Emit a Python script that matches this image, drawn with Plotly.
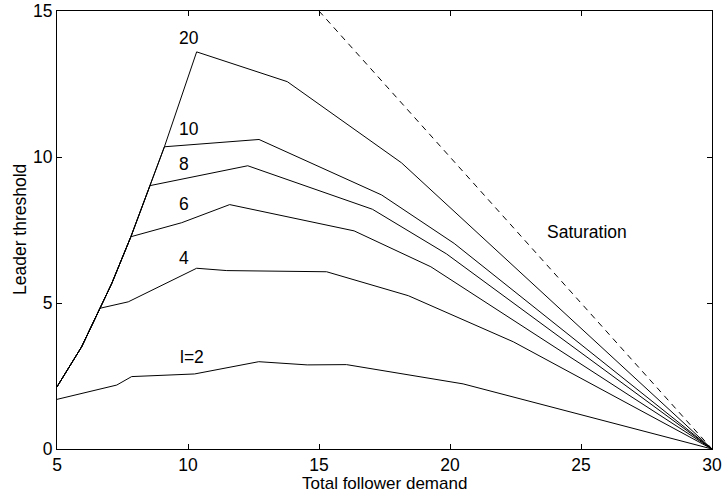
import plotly.graph_objects as go

# Shared rising envelope (feasibility boundary)
env_x = [5.0, 5.94, 6.64, 7.09, 7.82, 8.55, 9.10, 10.33]
env_y = [2.13, 3.50, 4.82, 5.67, 7.27, 9.02, 10.35, 13.60]

# l = 2 (does not follow the envelope)
l2_x = [5.0, 7.28, 7.85, 10.25, 12.70, 14.55, 16.05, 20.50, 30.0]
l2_y = [1.70, 2.19, 2.48, 2.57, 2.99, 2.88, 2.89, 2.23, 0.0]

# Branches leaving the envelope: (index of branch point on envelope, tail x, tail y)
l4_branch = 2
l4_x = [7.72, 10.33, 11.48, 15.29, 18.41, 22.42, 30.0]
l4_y = [5.04, 6.19, 6.11, 6.07, 5.25, 3.67, 0.0]

l6_branch = 4
l6_x = [9.76, 11.59, 16.34, 19.27, 30.0]
l6_y = [7.75, 8.37, 7.47, 6.24, 0.0]

l8_branch = 5
l8_x = [12.28, 17.04, 19.87, 30.0]
l8_y = [9.70, 8.21, 6.68, 0.0]

l10_branch = 6
l10_x = [12.71, 17.39, 20.16, 30.0]
l10_y = [10.60, 8.70, 7.04, 0.0]

l20_branch = 7
l20_x = [13.79, 18.15, 30.0]
l20_y = [12.58, 9.80, 0.0]

sat_x = [15.0, 30.0]
sat_y = [15.0, 0.0]

labels = ["l=2", "4", "6", "8", "10", "20", "Saturation"]
label_x = [10.14, 9.85, 9.86, 9.86, 10.05, 10.05, 25.22]
label_y = [3.16, 6.53, 8.38, 9.75, 10.95, 14.07, 7.44]

x_ticks = [5, 10, 15, 20, 25, 30]
y_ticks = [0, 5, 10, 15]
x_title = "Total follower demand"
y_title = "Leader threshold"

FONT = "Liberation Sans, Arial, Helvetica, sans-serif"
FS = 17.5

fig = go.Figure()

line = dict(color="black", width=1)

fig.add_trace(go.Scatter(x=l2_x, y=l2_y, mode="lines", line=line, showlegend=False))
for b, tx, ty in [(l4_branch, l4_x, l4_y), (l6_branch, l6_x, l6_y),
                  (l8_branch, l8_x, l8_y), (l10_branch, l10_x, l10_y),
                  (l20_branch, l20_x, l20_y)]:
    xs = env_x[:b + 1] + tx
    ys = env_y[:b + 1] + ty
    fig.add_trace(go.Scatter(x=xs, y=ys, mode="lines", line=line, showlegend=False))

fig.add_trace(go.Scatter(x=sat_x, y=sat_y, mode="lines", showlegend=False,
                         line=dict(color="black", width=1, dash="6px,5px")))

for t, x, y in zip(labels, label_x, label_y):
    fig.add_annotation(x=x, y=y, xref="x", yref="y", text=t, showarrow=False,
                       font=dict(family=FONT, size=FS, color="black"))

# Axis titles as annotations for precise placement
fig.add_annotation(x=0.5, y=0, xref="paper", yref="paper", text=x_title,
                   showarrow=False, yanchor="middle", yshift=-34.5, borderpad=0,
                   font=dict(family=FONT, size=17, color="black"))
fig.add_annotation(x=0, y=0.5, xref="paper", yref="paper", text=y_title,
                   showarrow=False, textangle=-90, xanchor="center", xshift=-37,
                   font=dict(family=FONT, size=FS, color="black"))

axis_common = dict(showline=True, linecolor="black", linewidth=1, mirror="ticks",
                   ticks="inside", ticklen=5, tickcolor="black", tickwidth=1,
                   showgrid=False, zeroline=False, automargin=False,
                   tickfont=dict(family=FONT, size=FS, color="black"))

fig.update_xaxes(range=[5, 30], tickvals=x_ticks, **axis_common)
fig.update_yaxes(range=[0, 15], tickvals=y_ticks, **axis_common)

fig.update_layout(width=722, height=493,
                  margin=dict(l=57, r=10, t=11, b=44),
                  paper_bgcolor="white", plot_bgcolor="white",
                  font=dict(family=FONT, size=FS, color="black"))

fig.write_html("out.html", config={"displayModeBar": False},
               post_script="document.body.style.margin='0';document.body.style.overflow='hidden';")
